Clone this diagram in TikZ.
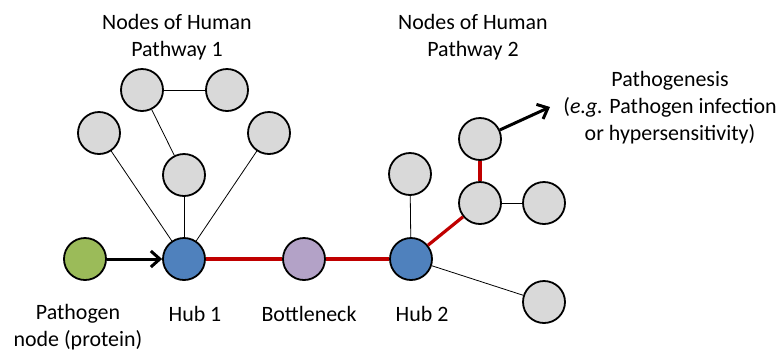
\documentclass[tikz,border=0pt]{standalone}
\usepackage{fontspec}
\setmainfont{Carlito}
\usetikzlibrary{arrows.meta}
\definecolor{pgreen}{HTML}{9BBB59}
\definecolor{hblue}{HTML}{4F81BD}
\definecolor{bpurple}{HTML}{B3A2C7}
\definecolor{ngray}{HTML}{D9D9D9}
\definecolor{rline}{HTML}{C00000}
\begin{document}
\begin{tikzpicture}[x=1bp,y=-1bp,
  nd/.style={circle,draw=black,line width=1.8bp,minimum size=42bp,inner sep=0pt,fill=ngray},
  thin/.style={line width=0.8bp,black},
  redl/.style={line width=3.2bp,rline},
  arr/.style={line width=3bp,black,-{Straight Barb[length=9bp,width=16bp,line width=3bp]}},
  lbl/.style={font=\fontsize{22}{27}\selectfont,align=center,inner sep=0pt}]
\useasboundingbox (0,0) rectangle (779,350);
% nodes
\node[nd,fill=pgreen] (path) at (85,259) {};
\node[nd,fill=hblue] (hub1) at (184,259) {};
\node[nd,fill=bpurple] (bott) at (304,259) {};
\node[nd,fill=hblue] (hub2) at (411,259) {};
\node[nd] (a) at (99,133) {};
\node[nd] (b) at (142,90) {};
\node[nd] (c) at (227,90) {};
\node[nd] (d) at (184,175) {};
\node[nd] (e) at (269,133) {};
\node[nd] (f) at (410,174) {};
\node[nd] (g) at (480,139) {};
\node[nd] (h) at (480,203) {};
\node[nd] (i) at (544,203) {};
\node[nd] (j) at (544,302) {};
\coordinate (tip) at (550,107);
% edges
\draw[thin] (a) -- (hub1);
\draw[thin] (b) -- (c);
\draw[thin] (b) -- (d);
\draw[thin] (d) -- (hub1);
\draw[thin] (e) -- (hub1);
\draw[thin] (f) -- (hub2);
\draw[thin] (h) -- (i);
\draw[thin] (hub2) -- (j);
\draw[redl] (hub1) -- (bott);
\draw[redl] (bott) -- (hub2);
\draw[redl] (hub2) -- (h);
\draw[redl] (h) -- (g);
\draw[arr] (path) -- (hub1);
\draw[arr] (g) -- (tip);
% labels
\node[lbl] (l1) at (177,37) {Nodes of Human\\Pathway 1};
\node[lbl] (l2) at (473,37) {Nodes of Human\\Pathway 2};
\node[lbl] (l3) at (670,108) {Pathogenesis\\(\textit{e.g.} Pathogen infection\\or hypersensitivity)};
\node[lbl] (l4) at (78,327) {Pathogen\\node (protein)};
\node[lbl] (l5) at (195,314) {Hub 1};
\node[lbl] (l6) at (309,314) {Bottleneck};
\node[lbl] (l7) at (422,314) {Hub 2};
\end{tikzpicture}
\end{document}
